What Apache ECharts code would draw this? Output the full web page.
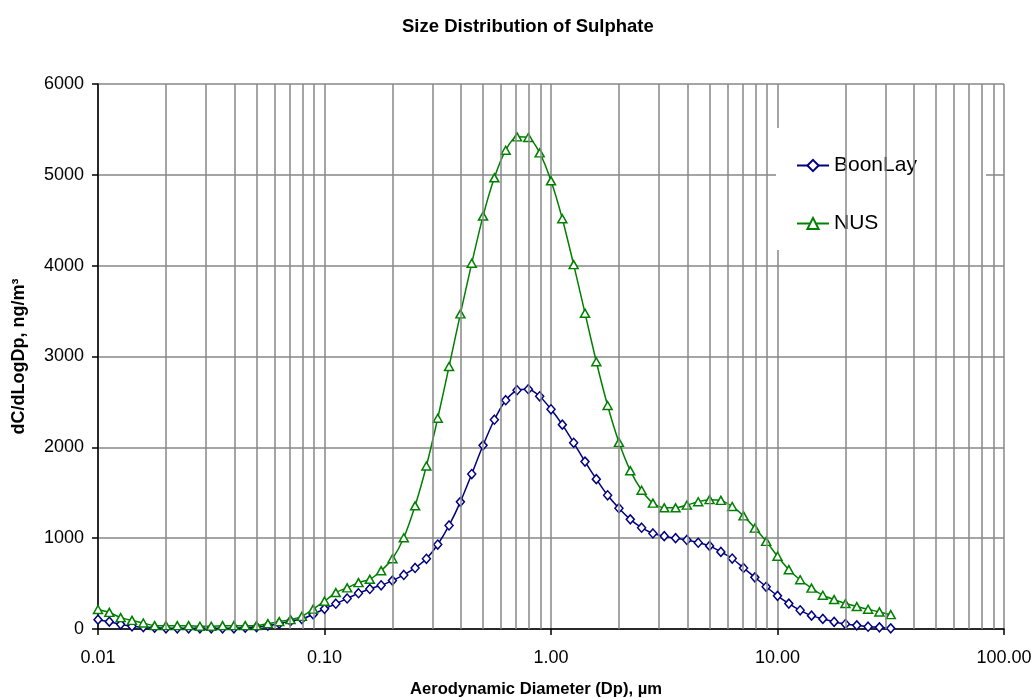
<!DOCTYPE html>
<html>
<head>
<meta charset="utf-8">
<script src="https://cdn.jsdelivr.net/npm/echarts@6/dist/echarts.min.js"></script>
<style>
html,body{margin:0;padding:0;background:#fff;}
#chart{width:1034px;height:698px;}
</style>
</head>
<body>
<div id="chart"></div>
<script>
// Aerodynamic diameter (µm), 20 points per decade
const diameters = [
  0.01, 0.01122, 0.01259, 0.01413, 0.01585, 0.01778, 0.01995, 0.02239, 0.02512, 0.02818,
  0.03162, 0.03548, 0.03981, 0.04467, 0.05012, 0.05623, 0.06310, 0.07079, 0.07943, 0.08913,
  0.1, 0.1122, 0.1259, 0.1413, 0.1585, 0.1778, 0.1995, 0.2239, 0.2512, 0.2818,
  0.3162, 0.3548, 0.3981, 0.4467, 0.5012, 0.5623, 0.6310, 0.7079, 0.7943, 0.8913,
  1.0, 1.122, 1.259, 1.413, 1.585, 1.778, 1.995, 2.239, 2.512, 2.818,
  3.162, 3.548, 3.981, 4.467, 5.012, 5.623, 6.310, 7.079, 7.943, 8.913,
  10.0, 11.22, 12.59, 14.13, 15.85, 17.78, 19.95, 22.39, 25.12, 28.18,
  31.62
];
const boonLay = [
  103, 81, 51, 30, 22, 15, 8, 8, 8, 8,
  8, 8, 8, 15, 22, 37, 59, 88, 109, 161,
  222, 278, 336, 394, 441, 481, 533, 595, 672, 773,
  930, 1140, 1400, 1706, 2022, 2304, 2519, 2629, 2640, 2562,
  2419, 2250, 2050, 1843, 1650, 1472, 1330, 1207, 1115, 1052,
  1022, 1000, 980, 950, 915, 849, 776, 672, 569, 465,
  365, 280, 206, 147, 111, 78, 55, 40, 25, 18,
  7
];
const nus = [
  215, 183, 125, 95, 66, 37, 37, 37, 37, 30,
  30, 37, 37, 37, 37, 59, 81, 103, 139, 219,
  306, 401, 453, 511, 547, 642, 773, 1005, 1356, 1794,
  2320, 2890, 3469, 4026, 4546, 4967, 5271, 5418, 5411, 5242,
  4934, 4516, 4011, 3477, 2942, 2460, 2055, 1743, 1527, 1386,
  1334, 1334, 1364, 1401, 1424, 1416, 1349, 1245, 1111, 965,
  801, 653, 542, 450, 372, 324, 280, 247, 217, 188,
  158
];
const seriesNames = ['BoonLay', 'NUS'];
const decades = [0.01, 0.1, 1, 10];
const minorMultipliers = [2, 3, 4, 5, 6, 7, 8, 9];

const minorLines = [];
decades.forEach(d => minorMultipliers.forEach(m => minorLines.push({ xAxis: +(d * m).toPrecision(3) })));

const zip = (xs, ys) => xs.map((x, i) => [x, ys[i]]);
const FONT = 'Liberation Sans, Arial, sans-serif';
const gridColor = '#878787';

const chart = echarts.init(document.getElementById('chart'), null, { renderer: 'canvas' });
chart.setOption({
  animation: false,
  backgroundColor: '#ffffff',
  title: {
    text: 'Size Distribution of Sulphate',
    left: 397,
    top: 12,
    textStyle: { fontFamily: FONT, fontSize: 18.5, fontWeight: 'bold', color: '#000' }
  },
  legend: {
    data: seriesNames,
    orient: 'vertical',
    left: 776,
    top: 128,
    width: 212,
    padding: [27, 69, 16, 20],
    itemGap: 37,
    itemWidth: 32,
    itemHeight: 14,
    backgroundColor: '#ffffff',
    textStyle: { fontFamily: FONT, fontSize: 21, color: '#000' }
  },
  grid: { left: 98, right: 30, top: 84, bottom: 69, containLabel: false, outerBoundsMode: 'none' },
  xAxis: {
    type: 'log',
    logBase: 10,
    min: 0.01,
    max: 100,
    name: 'Aerodynamic Diameter (Dp), µm',
    nameLocation: 'middle',
    nameGap: 52,
    nameTextStyle: { fontFamily: FONT, fontSize: 16.6, fontWeight: 'bold', color: '#000', padding: [0, 30, 0, 0] },
    axisLine: { onZero: false, lineStyle: { color: '#000', width: 1.5 } },
    axisTick: { show: true, inside: false, length: 6, lineStyle: { color: '#000', width: 1.5 } },
    axisLabel: {
      margin: 20,
      fontFamily: FONT, fontSize: 18, color: '#000',
      formatter: v => Number(v).toFixed(2)
    },
    splitLine: { show: true, lineStyle: { color: gridColor, width: 1.5 } },
    minorTick: { show: false },
    minorSplitLine: { show: false }
  },
  yAxis: {
    type: 'value',
    min: 0,
    max: 6000,
    interval: 1000,
    name: 'dC/dLogDp, ng/m³',
    nameLocation: 'middle',
    nameGap: 70,
    nameTextStyle: { fontFamily: FONT, fontSize: 18, fontWeight: 'bold', color: '#000' },
    axisLine: { show: true, lineStyle: { color: '#000', width: 1.5 } },
    axisTick: { show: true, inside: false, length: 6, lineStyle: { color: '#000', width: 1.5 } },
    axisLabel: { margin: 14, fontFamily: FONT, fontSize: 18, color: '#000', formatter: v => String(v) },
    splitLine: { show: true, lineStyle: { color: gridColor, width: 1.5 } }
  },
  series: [
    {
      name: '__grid',
      type: 'line',
      data: [],
      z: 1,
      silent: true,
      markLine: {
        silent: true,
        symbol: ['none', 'none'],
        label: { show: false },
        lineStyle: { color: gridColor, width: 1.5, type: 'solid' },
        emphasis: { disabled: true },
        data: minorLines
      }
    },
    {
      name: seriesNames[0],
      type: 'line',
      z: 3,
      data: zip(diameters, boonLay),
      smooth: 0.25,
      symbol: 'diamond',
      symbolSize: [8, 9],
      itemStyle: { color: '#ffffff', borderColor: '#000080', borderWidth: 1.5 },
      lineStyle: { color: '#000080', width: 1.5 }
    },
    {
      name: seriesNames[1],
      type: 'line',
      z: 4,
      data: zip(diameters, nus),
      smooth: 0.25,
      symbol: 'triangle',
      symbolSize: [9, 8],
      itemStyle: { color: '#ffffff', borderColor: '#008000', borderWidth: 1.5 },
      lineStyle: { color: '#008000', width: 1.5 }
    }
  ]
});
</script>
</body>
</html>
